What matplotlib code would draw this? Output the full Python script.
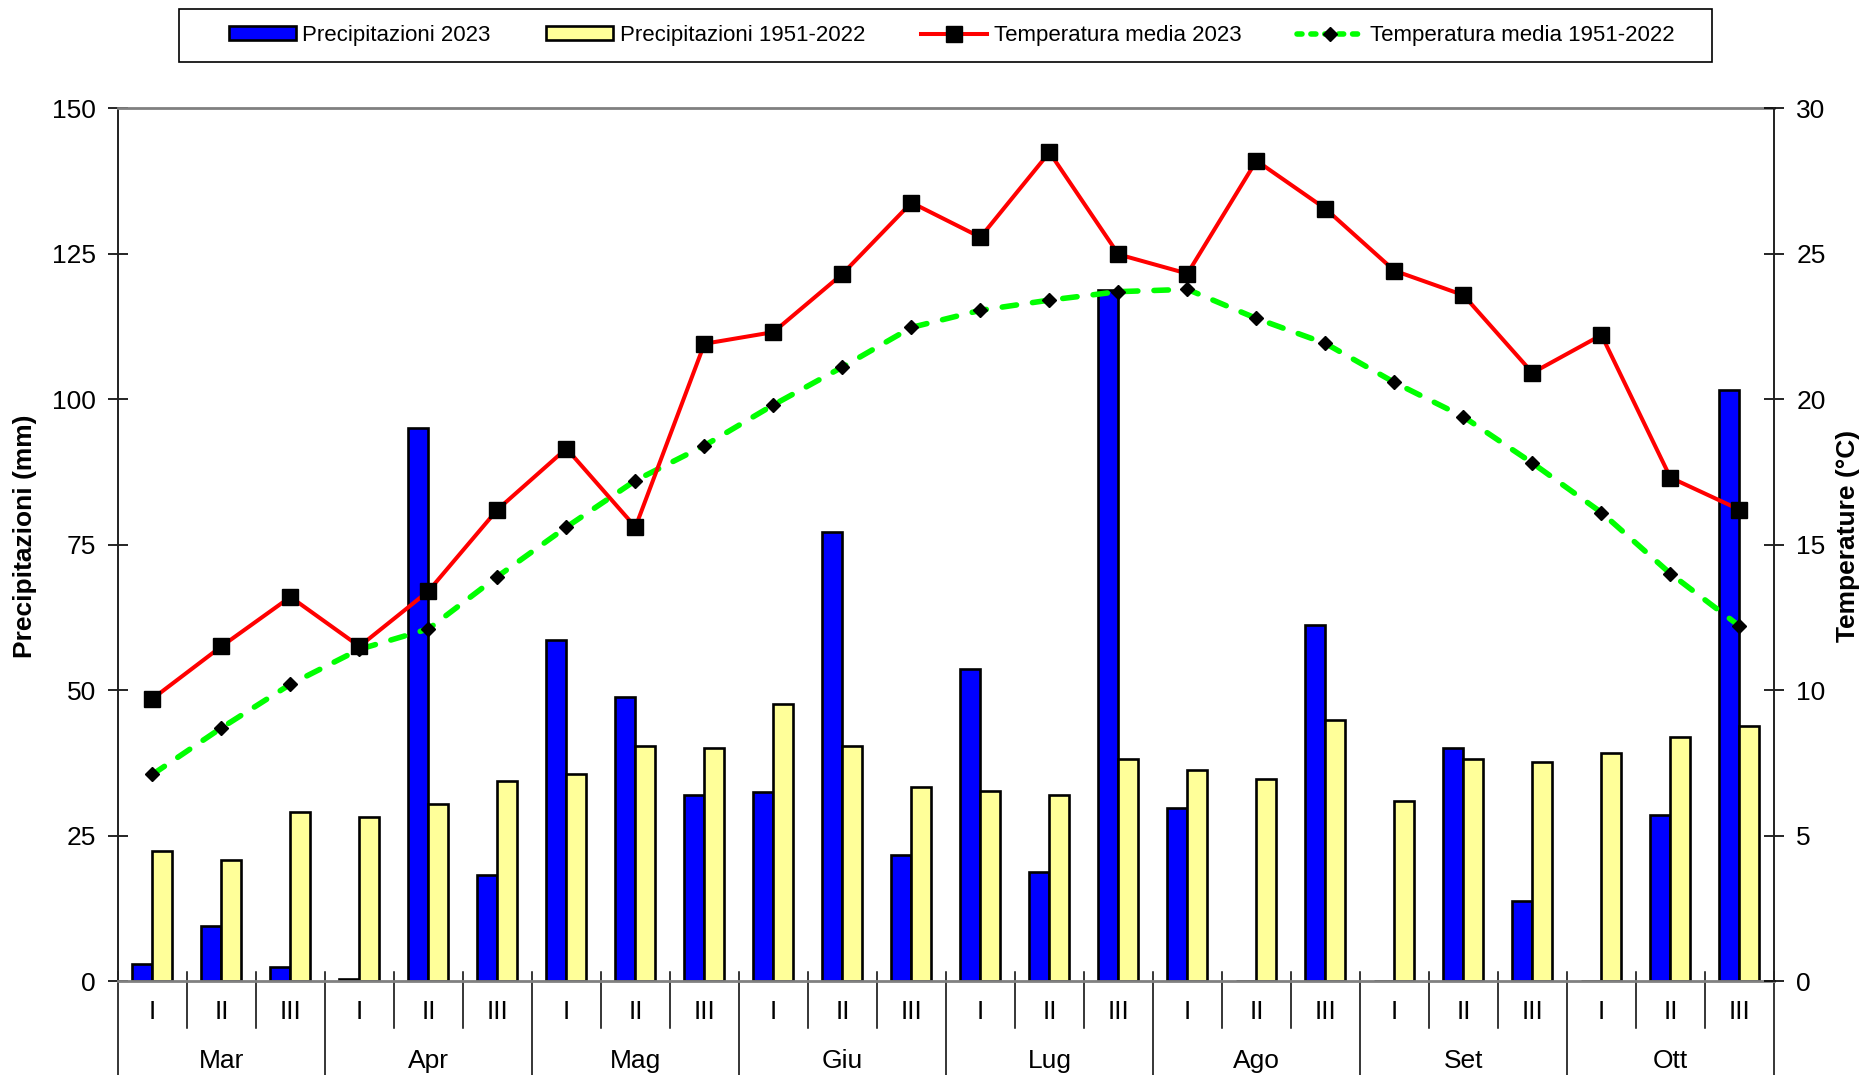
import numpy as np
import matplotlib
matplotlib.use('Agg')
import matplotlib.pyplot as plt
from matplotlib.patches import Patch, Rectangle
from matplotlib.lines import Line2D
import matplotlib.transforms as mtransforms

plt.rcParams['font.family'] = ['Liberation Sans', 'DejaVu Sans']

months = ['Mar', 'Apr', 'Mag', 'Giu', 'Lug', 'Ago', 'Set', 'Ott']
dekads = ['I', 'II', 'III']

# precipitation (mm) per dekad
prec_2023 = [2.9, 9.4, 2.4, 0.4, 95.1, 18.2, 58.6, 48.8, 32.0, 32.4, 77.1, 21.6,
             53.7, 18.8, 118.7, 29.8, 0.0, 61.2, 0.0, 40.0, 13.7, 0.0, 28.6, 101.6]
prec_clim = [22.4, 20.8, 29.0, 28.2, 30.4, 34.3, 35.5, 40.4, 40.0, 47.6, 40.4, 33.3,
             32.7, 32.0, 38.2, 36.3, 34.7, 44.9, 31.0, 38.2, 37.6, 39.2, 42.0, 43.9]
# mean temperature (°C) per dekad
temp_2023 = [9.7, 11.5, 13.2, 11.5, 13.4, 16.2, 18.3, 15.6, 21.9, 22.3, 24.3, 26.75,
             25.56, 28.48, 24.97, 24.31, 28.19, 26.54, 24.41, 23.57, 20.9, 22.2, 17.3, 16.2]
temp_clim = [7.1, 8.7, 10.2, 11.4, 12.1, 13.9, 15.6, 17.2, 18.4, 19.8, 21.1, 22.46,
             23.05, 23.40, 23.69, 23.77, 22.77, 21.91, 20.57, 19.39, 17.8, 16.1, 14.0, 12.2]

x = np.arange(len(prec_2023))
w = 0.29

fig = plt.figure(figsize=(18.63, 10.75), dpi=100)
ax = fig.add_axes([0.0633, 0.0874, 0.8889, 0.8121])
ax2 = ax.twinx()

ax.bar(x - w / 2, prec_2023, width=w, color='#0000FF', edgecolor='black', lw=1.9, zorder=2)
ax.bar(x + w / 2, prec_clim, width=w, color='#FFFF99', edgecolor='black', lw=1.9, zorder=2)

ax2.plot(x, temp_2023, color='#FF0000', lw=2.9, marker='s', ms=11,
         mfc='black', mec='black', zorder=4)
ax2.plot(x, temp_clim, color='#00FF00', lw=4, ls=(0, (2.6, 2.9)), dash_capstyle='round',
         marker='D', ms=7.5, mfc='black', mec='black', zorder=3)

ax.set_xlim(-0.5, len(x) - 0.5)
ax.set_ylim(0, 150)
ax.set_yticks(np.arange(0, 151, 25))
ax2.set_ylim(0, 30)
ax2.set_yticks(np.arange(0, 31, 5))
ax.set_xticks([])

for a in (ax, ax2):
    a.tick_params(axis='y', direction='inout', length=14, width=1.2, labelsize=19, pad=9)
    for s in a.spines.values():
        s.set_visible(False)

# frame of the plot area
ax.spines['top'].set_visible(True)
ax.spines['top'].set_color('#808080')
ax.spines['top'].set_linewidth(2)
ax.spines['bottom'].set_visible(True)
ax.spines['bottom'].set_color('#808080')
ax.spines['bottom'].set_linewidth(2)
ax.spines['left'].set_visible(True)
ax.spines['left'].set_color('#202020')
ax.spines['left'].set_linewidth(1.4)
ax2.spines['right'].set_visible(True)
ax2.spines['right'].set_color('#202020')
ax2.spines['right'].set_linewidth(1.4)

ax.set_ylabel('Precipitazioni (mm)', fontsize=19, fontweight='bold')
ax.yaxis.set_label_coords(-0.049, 0.51)
ax2.set_ylabel('Temperature (°C)', fontsize=19, fontweight='bold', rotation=90)
ax2.yaxis.set_label_coords(1.0375, 0.51)

# two-level category axis
tr = mtransforms.blended_transform_factory(ax.transData, ax.transAxes)
for k in range(len(x) + 1):
    xb = k - 0.5
    y0 = -0.108 if k % 3 == 0 else -0.054
    ax.plot([xb, xb], [0.0103, y0], color='black', lw=1.1, transform=tr, clip_on=False)
for i in x:
    ax.text(i, -0.0355, dekads[i % 3], transform=tr, ha='center', va='center', fontsize=19)
for m, name in enumerate(months):
    ax.text(3 * m + 1, -0.0916, name, transform=tr, ha='center', va='center', fontsize=19)

handles = [
    Patch(facecolor='#0000FF', edgecolor='black', lw=1.9),
    Patch(facecolor='#FFFF99', edgecolor='black', lw=1.9),
    Line2D([], [], color='#FF0000', lw=2.9, marker='s', ms=11, mfc='black', mec='black'),
    Line2D([], [], color='#00FF00', lw=4, ls=(0, (0.9, 1.6)), dash_capstyle='round',
           marker='D', ms=7.5, mfc='black', mec='black'),
]
labels = ['Precipitazioni 2023', 'Precipitazioni 1951-2022',
          'Temperatura media 2023', 'Temperatura media 1951-2022']
# legend box drawn separately, entries spread inside it
fig.patches.append(Rectangle((179 / 1863, 1 - 62 / 1075), 1533 / 1863, 52.5 / 1075,
                             transform=fig.transFigure, facecolor='white',
                             edgecolor='black', lw=1.2, zorder=0))
fig.legend(handles, labels, ncol=4, loc='center', mode='expand',
           bbox_to_anchor=(229 / 1863, 1 - 62 / 1075, 1446 / 1863, 52.5 / 1075),
           fontsize=16, handlelength=3.0, handleheight=0.6, handletextpad=0.3,
           columnspacing=2.0, borderpad=0, borderaxespad=0, frameon=False)

fig.savefig('out.png', dpi=100)
